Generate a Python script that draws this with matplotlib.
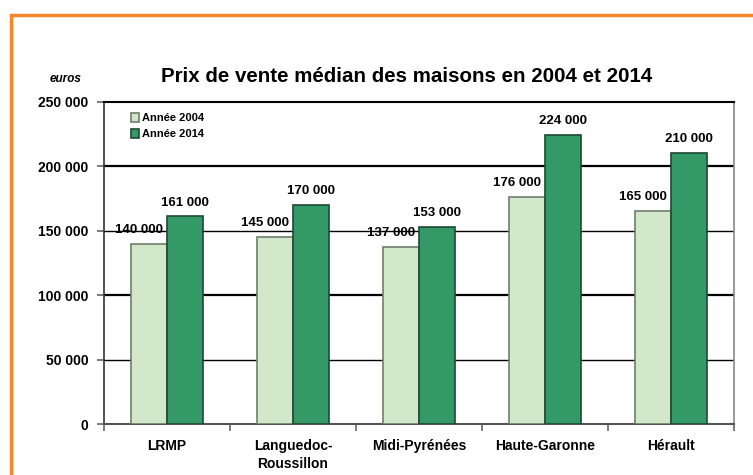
import matplotlib
matplotlib.use("Agg")
import matplotlib.pyplot as plt
import numpy as np
from matplotlib.patches import Rectangle

categories = ["LRMP", "Languedoc-\nRoussillon", "Midi-Pyrénées", "Haute-Garonne", "Hérault"]
series_names = ["Année 2004", "Année 2014"]
values_2004 = [140000, 145000, 137000, 176000, 165000]
values_2014 = [161000, 170000, 153000, 224000, 210000]
yticks = [0, 50000, 100000, 150000, 200000, 250000]
ytick_labels = ["0", "50 000", "100 000", "150 000", "200 000", "250 000"]
title = "Prix de vente médian des maisons en 2004 et 2014"

plt.rcParams['font.family'] = ['Liberation Sans', 'DejaVu Sans']

W, H = 753, 475
fig = plt.figure(figsize=(W/100, H/100), dpi=100)
ax = fig.add_axes([104/W, 1-424/H, (734-104)/W, (424-101.7)/H])

x = np.arange(len(categories))
bw = 0.288
light = "#d3e8c8"
dark = "#339966"
ax.bar(x - bw/2, values_2004, bw, color=light, edgecolor="#6e7f6c", linewidth=1.2, zorder=3, label=series_names[0])
ax.bar(x + bw/2, values_2014, bw, color=dark, edgecolor="#1d4a33", linewidth=1.2, zorder=3, label=series_names[1])

for xi, v in zip(x, values_2004):
    ax.annotate(f"{v:,}".replace(",", " "), (xi - bw/2, v), xytext=(-7, 10), textcoords="offset points",
                ha="center", va="center", fontsize=9.5, fontweight="bold", zorder=5)
for xi, v in zip(x, values_2014):
    ax.annotate(f"{v:,}".replace(",", " "), (xi + bw/2, v), xytext=(0, 10), textcoords="offset points",
                ha="center", va="center", fontsize=9.5, fontweight="bold", zorder=5)

ax.set_xlim(-0.5, len(categories) - 0.5)
ax.set_ylim(0, 250000)

# gridlines
for yv in yticks[1:-1]:
    lw = 1.6 if yv in (100000, 200000) else 1.0
    ax.axhline(yv, color="black", linewidth=lw, zorder=1)

ax.set_yticks(yticks)
ax.set_yticklabels(ytick_labels, fontsize=10, fontweight="bold")
ax.set_xticks(np.arange(len(categories) + 1) - 0.5)
ax.set_xticklabels([])
ax.set_xticks(x, minor=True)
ax.set_xticklabels(categories, minor=True, fontsize=10, fontweight="bold", linespacing=1.35, va="top")
ax.tick_params(axis="x", which="minor", length=0, pad=11)
ax.tick_params(axis="x", which="major", length=5, color="#666666", width=1.2)
ax.tick_params(axis="y", length=5, color="#666666", width=1.2, pad=6)

ax.spines["top"].set_color("black")
ax.spines["top"].set_linewidth(1.5)
ax.spines["right"].set_color("#888888")
ax.spines["right"].set_linewidth(1.2)
ax.spines["left"].set_color("#333333")
ax.spines["left"].set_linewidth(1.2)
ax.spines["bottom"].set_color("#555555")
ax.spines["bottom"].set_linewidth(1.5)

leg = ax.legend(loc="upper left", bbox_to_anchor=(0.027, 0.995), frameon=False,
                handlelength=0.75, handleheight=0.75, handletextpad=0.2, labelspacing=0.55,
                prop={"weight": "bold", "size": 8})

fig.text(407/W, 1-77/H, title, ha="center", va="center", fontsize=14.8, fontweight="bold")
fig.text(66/W, 1-79/H, "euros", ha="center", va="center", fontsize=8.5, fontweight="bold", style="italic")

# orange frame
fig.patches.append(Rectangle((10.5/W, -0.1), 1.2, 1 - 15/H + 0.1, transform=fig.transFigure,
                             fill=False, edgecolor="#f7862a", linewidth=2.5, zorder=0))

fig.savefig("out.png", dpi=100)
